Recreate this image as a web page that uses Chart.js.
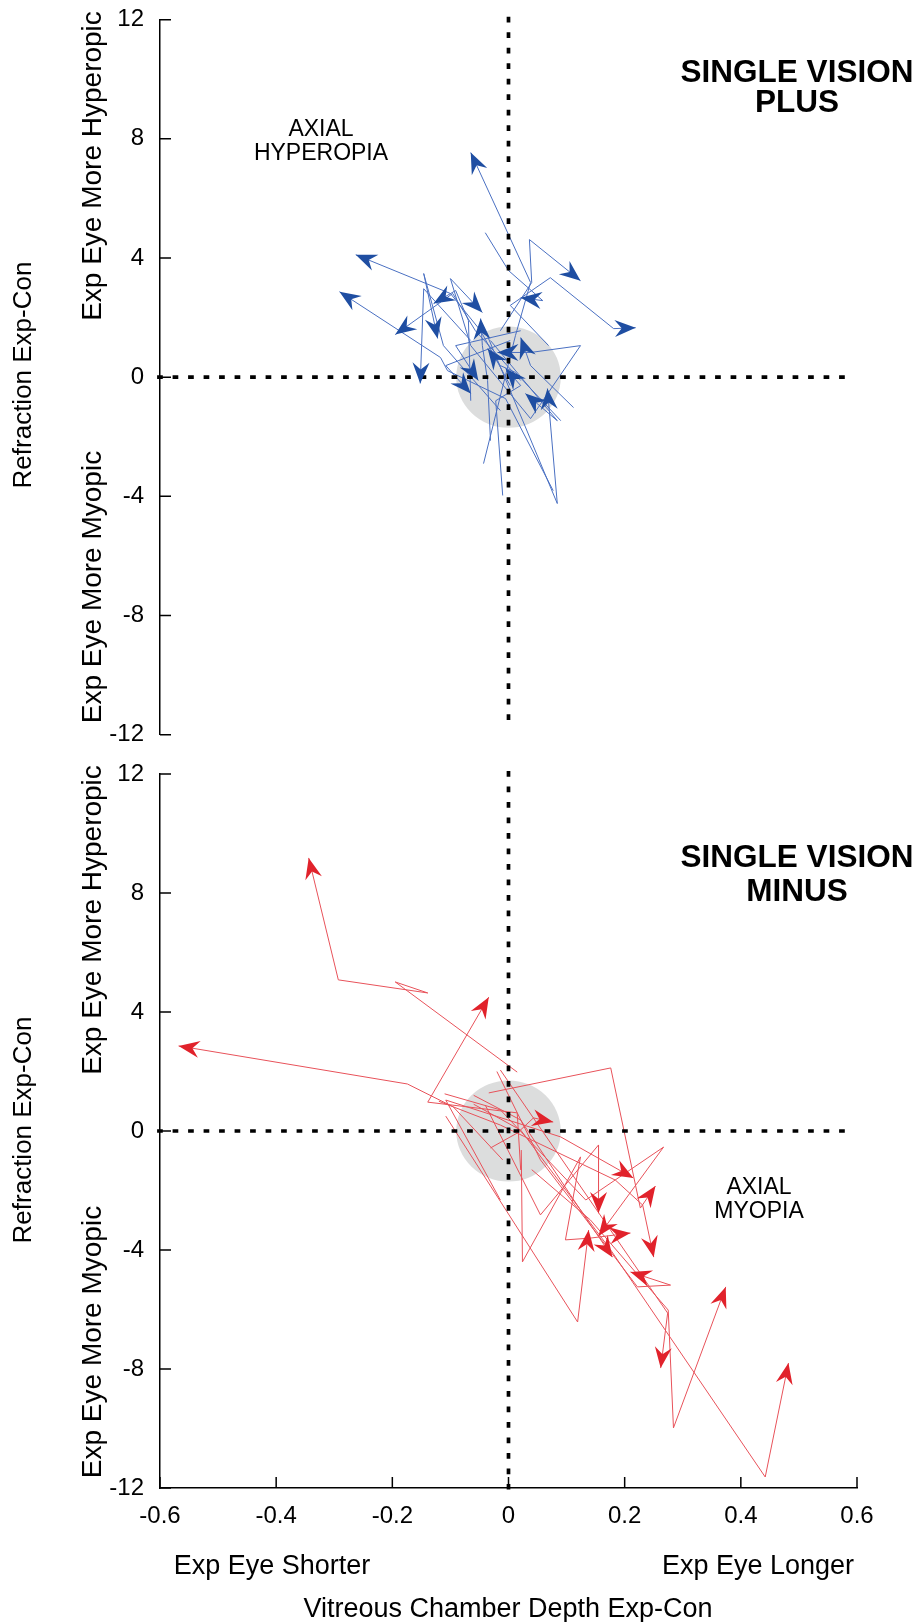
<!DOCTYPE html>
<html>
<head>
<meta charset="utf-8">
<script src="https://cdn.jsdelivr.net/npm/chart.js@4.4.1/dist/chart.umd.min.js"></script>
<style>
  html, body { margin: 0; padding: 0; background: #fff; }
  #wrap { position: relative; width: 921px; height: 1622px; overflow: hidden; }
  canvas { position: absolute; left: 0; }
  #plus { top: 0; }
  #minus { top: 750px; }
</style>
</head>
<body>
<div id="wrap">
  <canvas id="plus" width="921" height="750"></canvas>
  <canvas id="minus" width="921" height="872"></canvas>
</div>
<script>
// Axis ticks
const xTickValues = [-0.6, -0.4, -0.2, 0, 0.2, 0.4, 0.6];
const xTickLabels = ['-0.6', '-0.4', '-0.2', '0', '0.2', '0.4', '0.6'];
const yTickValues = [-12, -8, -4, 0, 4, 8, 12];
const yTickLabels = ['-12', '-8', '-4', '0', '4', '8', '12'];

// Dotted reference lines through zero
const zeroHorizontal = [[-0.605, 0], [0.587, 0]];
const zeroVerticalPlus = [[0, 12.1], [0, -11.55]];
const zeroVerticalMinus = [[0, 12.1], [0, -12.05]];

// Grey zone around the origin: centre x, centre y, half-width, half-height
const normalZone = [0, 0, 0.09, 1.7];

// Single vision plus lenses: per-animal paths of [VCD Exp-Con (mm), Refraction Exp-Con (D)]
const plusPaths = [
  [[-0.043, -2.90], [0.012, 1.40], [0.038, 3.18], [-0.065, 7.54]],
  [[-0.014, 1.56], [0.040, 3.18], [0.036, 4.62], [0.124, 3.24]],
  [[0.069, 1.06], [0.003, 2.41], [0.072, 3.34], [0.181, 1.63], [0.219, 1.66]],
  [[-0.040, 4.85], [0.000, 3.58], [0.059, 2.57], [0.021, 2.67]],
  [[0.003, -0.28], [-0.048, 1.56], [-0.100, 2.81], [-0.263, 4.11]],
  [[0.077, -3.81], [-0.005, -0.72], [-0.105, 0.22], [-0.117, 0.66], [-0.291, 2.87]],
  [[0.021, -0.11], [-0.057, 1.56], [-0.096, 2.81], [-0.195, 1.43]],
  [[-0.065, -0.79], [-0.069, 1.90], [-0.091, 2.91], [-0.129, 2.47]],
  [[-0.014, -1.12], [-0.112, 1.06], [-0.146, 3.48], [-0.122, 1.30]],
  [[-0.065, 1.23], [-0.146, 2.97], [-0.152, -0.21]],
  [[0.038, -1.39], [-0.065, 1.06], [-0.100, 3.31], [-0.045, 2.17]],
  [[-0.031, -2.13], [-0.036, -0.11], [-0.045, 1.06], [-0.048, 1.97]],
  [[0.112, -1.02], [0.038, 0.39], [0.021, 1.33]],
  [[0.090, -1.46], [0.012, 0.16], [-0.014, 0.39], [-0.036, 0.96]],
  [[0.038, -1.39], [0.124, 1.06], [0.038, 0.83], [-0.019, 0.83]],
  [[-0.010, -3.97], [-0.022, -0.79], [0.021, -0.28], [-0.005, 0.29]],
  [[0.021, 1.56], [-0.091, 1.06], [-0.052, -0.11]],
  [[0.003, 1.23], [-0.108, 0.39], [-0.065, -0.55]],
  [[-0.031, 1.23], [0.084, -1.46], [0.029, -0.55]],
  [[-0.040, 1.56], [0.084, -4.24], [0.067, -0.38]]
];

// Single vision minus lenses: per-animal paths of [VCD Exp-Con (mm), Refraction Exp-Con (D)]
const minusPaths = [
  [[0.015, 1.98], [-0.195, 5.01], [-0.139, 4.64], [-0.293, 5.08], [-0.344, 9.18]],
  [[-0.010, -0.97], [-0.095, 0.81], [-0.174, 1.58], [-0.568, 2.86]],
  [[0.021, -1.31], [0.015, 0.61], [-0.139, 0.97], [-0.034, 4.50]],
  [[-0.031, -0.57], [0.015, -0.07], [0.043, 0.44], [0.077, 0.30]],
  [[-0.014, -2.32], [-0.108, 1.04], [0.090, -0.20], [0.215, -1.58]],
  [[-0.040, 0.87], [0.055, -2.82], [0.155, -0.47], [0.155, -2.76]],
  [[-0.034, 1.28], [0.176, 2.12], [0.227, -2.59], [0.253, -1.85]],
  [[-0.108, 0.50], [0.119, -6.42], [0.138, -3.33]],
  [[-0.110, 1.25], [-0.014, 0.71], [0.133, -2.32], [0.267, -0.54], [0.155, -3.53]],
  [[0.022, -0.64], [0.024, -4.40], [0.124, -0.87], [0.098, -3.66], [0.141, -3.60], [0.210, -3.43]],
  [[-0.060, 1.20], [0.021, 0.37], [0.124, -2.66], [0.179, -4.24]],
  [[-0.120, 1.00], [-0.014, 0.20], [0.184, -1.65], [0.231, -2.49], [0.250, -4.24]],
  [[-0.020, 2.00], [0.055, -0.97], [0.222, -5.24], [0.279, -5.18], [0.210, -4.74]],
  [[0.040, -1.30], [0.141, -2.99], [0.275, -6.02], [0.284, -9.98], [0.374, -5.24]],
  [[-0.014, 2.05], [0.274, -6.12], [0.262, -7.97]],
  [[-0.060, 0.90], [0.021, 0.03], [0.176, -4.00], [0.442, -11.63], [0.482, -7.80]]
];

const FONT = '"Liberation Sans", Arial, Helvetica, sans-serif';
const toPoints = arr => arr.map(([x, y]) => ({ x, y }));

// Grey ellipse behind the paths
const zonePlugin = {
  id: 'zone',
  beforeDatasetsDraw(chart) {
    const { ctx, scales: { x, y } } = chart;
    const [zx, zy, hw, hh] = normalZone;
    const cx = x.getPixelForValue(zx), cy = y.getPixelForValue(zy);
    const rx = Math.abs(x.getPixelForValue(zx + hw) - cx);
    const ry = Math.abs(y.getPixelForValue(zy + hh) - cy);
    ctx.save();
    ctx.fillStyle = '#dcdddd';
    ctx.beginPath();
    ctx.ellipse(cx, cy, rx, ry, 0, 0, Math.PI * 2);
    ctx.fill();
    ctx.restore();
  }
};

// Barbed arrowhead at the last point of every path
const arrowPlugin = {
  id: 'arrowheads',
  afterDatasetsDraw(chart) {
    const ctx = chart.ctx;
    chart.data.datasets.forEach((ds, i) => {
      if (!ds.headColor) return;
      const pts = chart.getDatasetMeta(i).data;
      const a = pts[pts.length - 2], b = pts[pts.length - 1];
      const ang = Math.atan2(b.y - a.y, b.x - a.x);
      const L = 21, W = 8.5, N = 14;
      ctx.save();
      ctx.translate(b.x, b.y);
      ctx.rotate(ang);
      ctx.fillStyle = ds.headColor;
      ctx.beginPath();
      ctx.moveTo(0, 0);
      ctx.lineTo(-L, -W);
      ctx.lineTo(-N, 0);
      ctx.lineTo(-L, W);
      ctx.closePath();
      ctx.fill();
      ctx.restore();
    });
  }
};

// Tick marks pointing into the plot
const innerTickPlugin = {
  id: 'innerTicks',
  afterDraw(chart, args, opts) {
    const { ctx, chartArea, scales: { x, y } } = chart;
    ctx.save();
    ctx.strokeStyle = '#000';
    ctx.lineWidth = 1.5;
    ctx.beginPath();
    yTickValues.forEach(v => {
      const py = y.getPixelForValue(v);
      ctx.moveTo(chartArea.left, py);
      ctx.lineTo(chartArea.left + 11, py);
    });
    if (opts.xTicks) {
      xTickValues.forEach(v => {
        const px = x.getPixelForValue(v);
        ctx.moveTo(px, chartArea.bottom);
        ctx.lineTo(px, chartArea.bottom - 11);
      });
    }
    ctx.stroke();
    ctx.restore();
  }
};

// Free text: titles, axis captions, region names
const textPlugin = {
  id: 'texts',
  afterDraw(chart, args, opts) {
    const ctx = chart.ctx;
    (opts.items || []).forEach(t => {
      ctx.save();
      ctx.fillStyle = '#000';
      ctx.font = (t.bold ? 'bold ' : '') + t.size + 'px ' + FONT;
      ctx.textAlign = 'center';
      ctx.textBaseline = t.rot ? 'middle' : 'alphabetic';
      ctx.translate(t.x, t.y);
      if (t.rot) ctx.rotate(-Math.PI / 2);
      ctx.fillText(t.text, 0, 0);
      ctx.restore();
    });
  }
};

function buildDatasets(paths, lineColor, headColor, zeroVertical) {
  const sets = paths.map(p => ({
    data: toPoints(p),
    showLine: true,
    borderColor: lineColor,
    borderWidth: 1,
    pointRadius: 0,
    tension: 0,
    clip: false,
    order: 2,
    headColor: headColor
  }));
  [zeroHorizontal, zeroVertical].forEach(z => sets.push({
    data: toPoints(z),
    showLine: true,
    borderColor: '#000',
    borderWidth: 3.7,
    borderDash: [5.7, 9.8],
    borderCapStyle: 'butt',
    pointRadius: 0,
    clip: false,
    order: 1
  }));
  return sets;
}

function yScale() {
  return {
    type: 'linear', min: -12, max: 12,
    afterBuildTicks: s => { s.ticks = yTickValues.map(v => ({ value: v })); },
    afterFit: s => { s.width = 160; s.paddingTop = 0; s.paddingBottom = 0; },
    grid: { display: false, drawTicks: false },
    border: { display: true, color: '#000', width: 1.5 },
    ticks: { font: { family: FONT, size: 24 }, color: '#000', padding: 16,
             callback: (v, i) => yTickLabels[i] }
  };
}

function makeChart(id, paths, lineColor, headColor, zeroVertical, showX, pad, texts) {
  return new Chart(document.getElementById(id), {
    type: 'scatter',
    data: { datasets: buildDatasets(paths, lineColor, headColor, zeroVertical) },
    options: {
      responsive: false,
      animation: false,
      devicePixelRatio: 1,
      layout: { padding: pad },
      plugins: {
        legend: { display: false },
        tooltip: { enabled: false },
        innerTicks: { xTicks: showX },
        texts: { items: texts }
      },
      scales: {
        x: showX ? {
          type: 'linear', min: -0.6, max: 0.6,
          afterBuildTicks: s => { s.ticks = xTickValues.map(v => ({ value: v })); },
          afterFit: s => { s.height = 134; s.paddingLeft = 0; s.paddingRight = 0; },
          grid: { display: false, drawTicks: false },
          border: { display: true, color: '#000', width: 1.5 },
          ticks: { font: { family: FONT, size: 24 }, color: '#000', padding: 14,
                   maxRotation: 0, callback: (v, i) => xTickLabels[i] }
        } : { type: 'linear', min: -0.6, max: 0.6, display: false },
        y: yScale()
      }
    },
    plugins: [zonePlugin, arrowPlugin, innerTickPlugin, textPlugin]
  });
}

makeChart('plus', plusPaths, '#4a70c2', '#1f4ea2', zeroVerticalPlus, false,
  { left: 0, right: 64, top: 19.7, bottom: 15.3 },
  [
    { text: 'SINGLE VISION', x: 797, y: 82, size: 31.5, bold: true },
    { text: 'PLUS', x: 797, y: 112, size: 31.5, bold: true },
    { text: 'AXIAL', x: 321, y: 136, size: 23 },
    { text: 'HYPEROPIA', x: 321, y: 160, size: 23 },
    { text: 'Refraction Exp-Con', x: 24, y: 375, size: 26, rot: true },
    { text: 'Exp Eye More Hyperopic', x: 93, y: 166, size: 28, rot: true },
    { text: 'Exp Eye More Myopic', x: 93, y: 587, size: 28, rot: true }
  ]);

makeChart('minus', minusPaths, '#e8525a', '#e1222b', zeroVerticalMinus, true,
  { left: 0, right: 64, top: 24, bottom: 0 },
  [
    { text: 'SINGLE VISION', x: 797, y: 117, size: 31.5, bold: true },
    { text: 'MINUS', x: 797, y: 151, size: 31.5, bold: true },
    { text: 'AXIAL', x: 759, y: 444, size: 23 },
    { text: 'MYOPIA', x: 759, y: 468, size: 23 },
    { text: 'Refraction Exp-Con', x: 24, y: 380, size: 26, rot: true },
    { text: 'Exp Eye More Hyperopic', x: 93, y: 170, size: 28, rot: true },
    { text: 'Exp Eye More Myopic', x: 93, y: 592, size: 28, rot: true },
    { text: 'Exp Eye Shorter', x: 272, y: 824, size: 27 },
    { text: 'Exp Eye Longer', x: 758, y: 824, size: 27 },
    { text: 'Vitreous Chamber Depth Exp-Con', x: 508, y: 867, size: 27 }
  ]);
</script>
</body>
</html>
